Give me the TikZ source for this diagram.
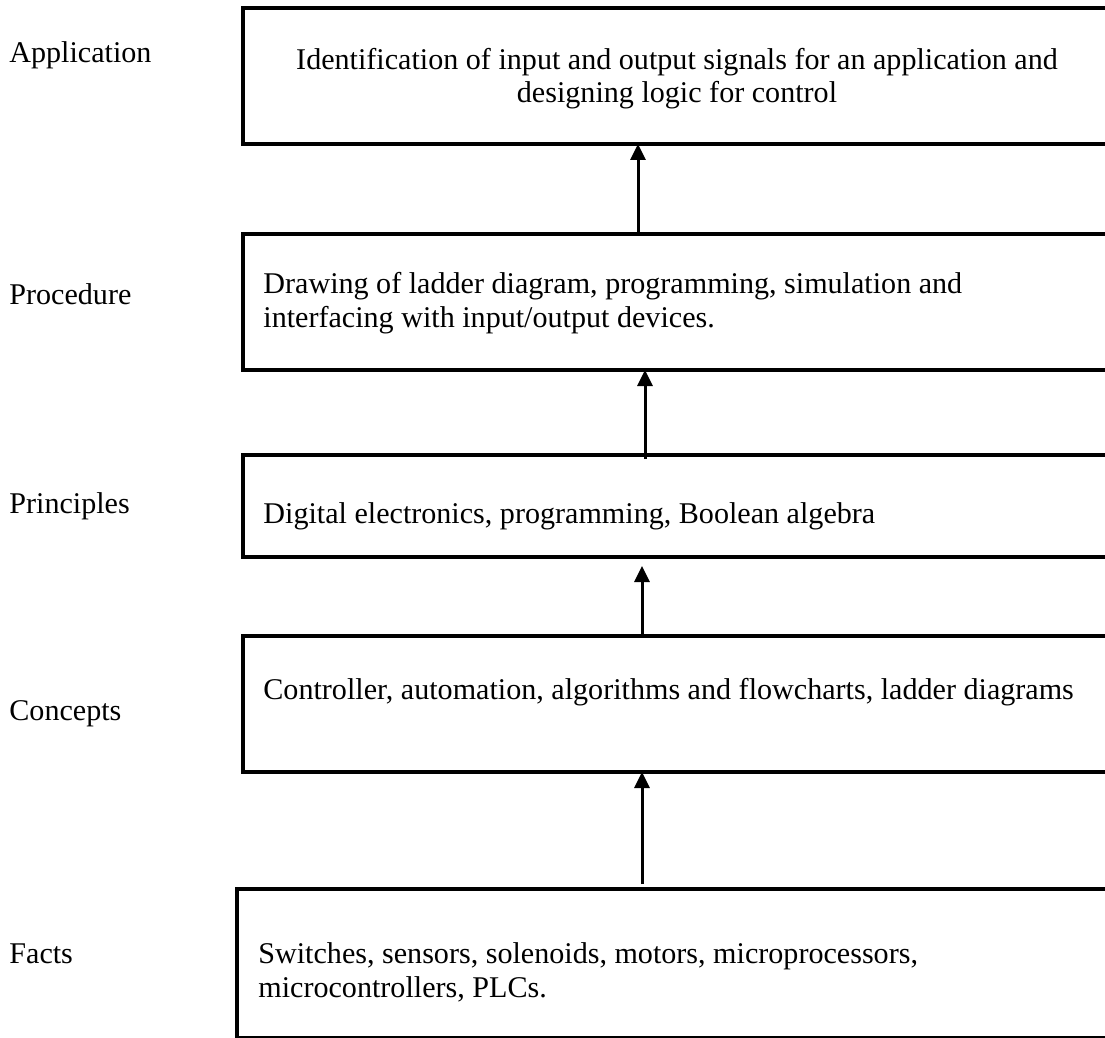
\documentclass[tikz,border=0pt]{standalone}
\usepackage{fontspec}
\setmainfont{Liberation Serif}
\usetikzlibrary{arrows.meta}
\begin{document}
\begin{tikzpicture}[x=0.5pt,y=-0.5pt,
  box/.style={draw, line width=1.8pt, rectangle, anchor=north west, inner sep=0pt, outer sep=0pt, minimum width=441.5pt},
  lbl/.style={anchor=base west, inner sep=0pt, font=\fontsize{15.05pt}{17pt}\selectfont},
  ctr/.style={anchor=base, inner sep=0pt, font=\fontsize{15.05pt}{17pt}\selectfont},
  arr/.style={line width=1.5pt, -{Triangle[width=7.5pt,length=8pt]}}]
\useasboundingbox (0,0) rectangle (1105,1038);
\fill[white] (0,0) rectangle (1105,1038);

% boxes
\node[box, minimum height=68pt] (b1) at (243,8) {};
\node[box, minimum height=68pt] (b2) at (243,234) {};
\node[box, minimum height=51pt] (b3) at (243,455) {};
\node[box, minimum height=68pt] (b4) at (243,636) {};
\node[box, minimum height=74.5pt, minimum width=444.5pt] (b5) at (237,889) {};

% level labels
\node[lbl] (lApp) at (9,63) {Application};
\node[lbl] (lPro) at (9,305) {Procedure};
\node[lbl] (lPri) at (9,513) {Principles};
\node[lbl] (lCon) at (9,720) {Concepts};
\node[lbl] (lFac) at (9,963) {Facts};

% box texts
\node[ctr] (t1a) at (677,70) {Identification of input and output signals for an application and};
\node[ctr] (t1b) at (677,103) {designing logic for control};
\node[lbl] (t2a) at (263,293) {Drawing of ladder diagram, programming, simulation and};
\node[lbl] (t2b) at (263,328) {interfacing with input/output devices.};
\node[lbl] (t3) at (263,523) {Digital electronics, programming, Boolean algebra};
\node[lbl] (t4) at (263,699) {Controller, automation, algorithms and flowcharts, ladder diagrams};
\node[lbl] (t5a) at (258,963) {Switches, sensors, solenoids, motors, microprocessors,};
\node[lbl] (t5b) at (258,997) {microcontrollers, PLCs.};

% arrow columns
\coordinate (x1) at (638,0);
\coordinate (x2) at (645,0);
\coordinate (x3) at (642,0);
\coordinate (x4) at (642,0);

% connectors
\draw[arr] (b2.north -| x1) -- (b1.south -| x1);
\draw[arr, shorten <=-2pt] (b3.north -| x2) -- (b2.south -| x2);
\draw[arr, shorten >=4.5pt] (b4.north -| x3) -- (b3.south -| x3);
\draw[arr, shorten <=2.5pt] (b5.north -| x4) -- (b4.south -| x4);
\end{tikzpicture}
\end{document}
